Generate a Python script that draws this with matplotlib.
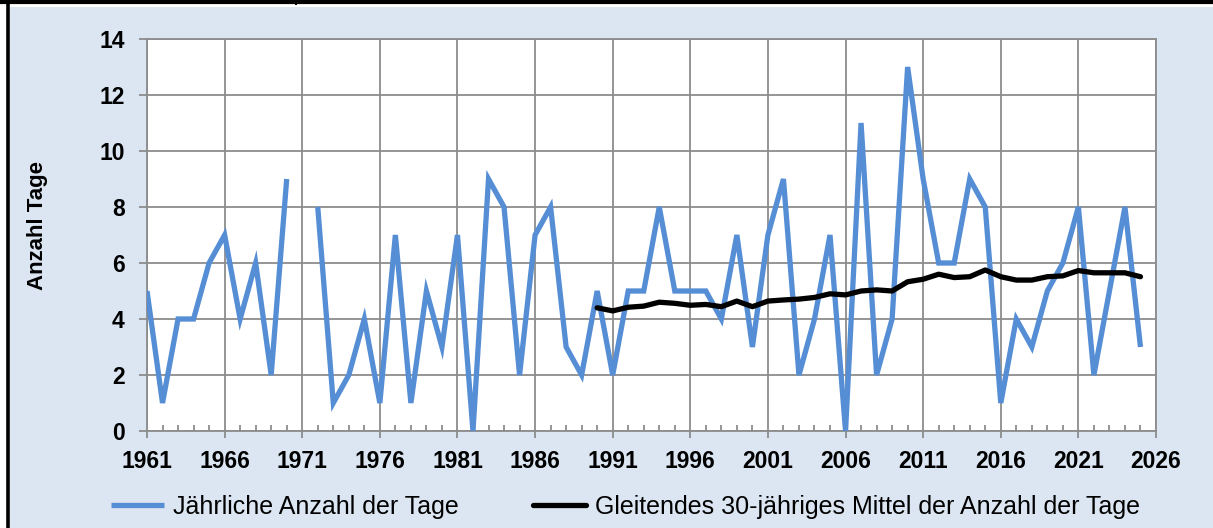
import numpy as np
import matplotlib
matplotlib.use("Agg")
import matplotlib.pyplot as plt
from matplotlib.patches import Rectangle
from matplotlib.lines import Line2D
from matplotlib.ticker import MultipleLocator

years = list(range(1961, 2026))
annual_days = [5, 1, 4, 4, 6, 7, 4, 6, 2, 9,
               np.nan, 8, 1, 2, 4, 1, 7, 1, 5, 3,
               7, 0, 9, 8, 2, 7, 8, 3, 2, 5,
               2, 5, 5, 8, 5, 5, 5, 4, 7, 3,
               7, 9, 2, 4, 7, 0, 11, 2, 4, 13,
               9, 6, 6, 9, 8, 1, 4, 3, 5, 6,
               8, 2, 5, 8, 3]
ma_years = list(range(1990, 2026))
moving_avg = [4.40, 4.29, 4.42, 4.46, 4.60, 4.56, 4.49, 4.52, 4.44, 4.64,
              4.44, 4.64, 4.68, 4.71, 4.77, 4.90, 4.86, 5.00, 5.04, 5.00,
              5.33, 5.42, 5.60, 5.48, 5.51, 5.75, 5.51, 5.39, 5.39, 5.51,
              5.54, 5.73, 5.65, 5.65, 5.65, 5.51]
xtick_labels = [str(y) for y in range(1961, 2027, 5)]
label_annual = "Jährliche Anzahl der Tage"
label_ma = "Gleitendes 30-jähriges Mittel der Anzahl der Tage"
ylabel = "Anzahl Tage"

plt.rcParams['font.family'] = ['Liberation Sans', 'DejaVu Sans']

W, H = 1213, 528
bg = "#dce6f2"
fig = plt.figure(figsize=(W / 100, H / 100), dpi=100, facecolor=bg)

# white margins outside the light-blue chart area
fig.patches.append(Rectangle((0, 0), 10 / W, 1, transform=fig.transFigure,
                             facecolor="white", edgecolor="none", zorder=-5))
fig.patches.append(Rectangle((0, 1 - 7 / H), 1, 7 / H, transform=fig.transFigure,
                             facecolor="white", edgecolor="none", zorder=-5))
fig.add_artist(Line2D([0, 1], [1 - 1.8 / H, 1 - 1.8 / H], transform=fig.transFigure,
                      color="black", lw=3.0))
fig.add_artist(Line2D([7.5 / W, 7.5 / W], [0, 1], transform=fig.transFigure,
                      color="black", lw=2.6))
fig.add_artist(Line2D([296 / W, 296 / W], [1 - 4 / H, 1], transform=fig.transFigure,
                      color="black", lw=1.5))

ax = fig.add_axes([147 / W, (H - 431) / H, (1156 - 147) / W, (431 - 39) / H])
ax.set_facecolor("white")
grid_c = "#8c8c8c"

ax.plot(years, annual_days, color="#558ed5", lw=3.8, solid_joinstyle="miter",
        solid_capstyle="butt", label=label_annual, zorder=3)
ax.plot(ma_years, moving_avg, color="black", lw=3.8, solid_capstyle="round",
        label=label_ma, zorder=4)

ax.set_xlim(1961, 2026)
ax.set_ylim(0, 14)
ax.set_xticks(range(1961, 2027, 5))
ax.set_xticklabels(xtick_labels)
ax.xaxis.set_minor_locator(MultipleLocator(1))
ax.set_yticks(range(0, 15, 2))
ax.grid(True, which="major", color=grid_c, lw=1.3, zorder=1)
ax.set_axisbelow(True)
for s in ["left", "bottom", "right", "top"]:
    ax.spines[s].set_color(grid_c)
    ax.spines[s].set_linewidth(1.3)
ax.tick_params(axis="x", which="major", direction="out", length=5, width=1.3,
               color=grid_c, pad=9, labelsize=16.5)
ax.tick_params(axis="x", which="minor", direction="in", length=4, width=1.3, color=grid_c)
ax.tick_params(axis="y", which="major", direction="out", length=6, width=1.3,
               color=grid_c, pad=10, labelsize=16.5)
for lab in ax.get_xticklabels() + ax.get_yticklabels():
    lab.set_fontweight("bold")

fig.text(38 / W, (H - 225) / H, ylabel, rotation=90, ha="center", va="center",
         fontsize=16, fontweight="bold")

fig.legend(loc="center", bbox_to_anchor=(625.5 / W, (H - 507) / H), ncol=2,
           frameon=False, fontsize=18, handlelength=2.1, handletextpad=0.35,
           columnspacing=3.0)

fig.savefig("out.png", dpi=100, facecolor=fig.get_facecolor())
